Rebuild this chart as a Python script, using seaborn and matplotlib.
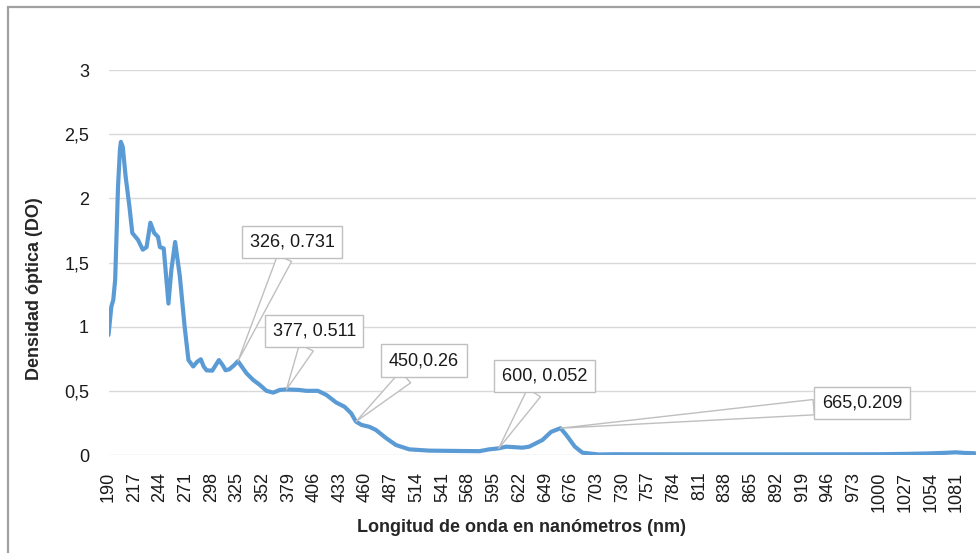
import numpy as np
import pandas as pd
import matplotlib
matplotlib.use("Agg")
import matplotlib.pyplot as plt
from matplotlib.patches import Rectangle
from matplotlib.ticker import FuncFormatter
import seaborn as sns

# Spectrum (wavelength nm, optical density)
wavelength = [190, 193, 195, 197, 200, 202, 203, 205, 208, 212, 215, 221, 226, 230, 234,
              238, 242, 244, 248, 250, 253, 256, 260, 265, 270, 274, 279, 283, 287, 290,
              293, 299, 306, 310, 313, 317, 322, 326, 335, 342, 349, 356, 363, 370, 377,
              390, 398, 410, 419, 429, 438, 445, 450, 456, 464, 471, 482, 492, 506, 527,
              562, 580, 590, 600, 608, 625, 632, 646, 655, 665, 671, 680, 688, 705, 720,
              800, 900, 1000, 1030, 1050, 1070, 1080, 1090, 1100]
density = [0.935, 1.156, 1.208, 1.364, 2.09, 2.377, 2.44, 2.40, 2.17, 1.935, 1.73, 1.676, 1.60, 1.62, 1.81,
           1.73, 1.70, 1.62, 1.61, 1.44, 1.18, 1.44, 1.66, 1.39, 1.00, 0.74, 0.69, 0.725, 0.746, 0.69,
           0.66, 0.657, 0.74, 0.70, 0.66, 0.668, 0.70, 0.731, 0.637, 0.585, 0.546, 0.50, 0.486, 0.507, 0.511,
           0.507, 0.50, 0.50, 0.468, 0.41, 0.376, 0.325, 0.26, 0.234, 0.22, 0.195, 0.13, 0.078, 0.044, 0.034,
           0.031, 0.030, 0.044, 0.052, 0.065, 0.057, 0.065, 0.117, 0.18, 0.209, 0.156, 0.065, 0.018, 0.004, 0.006,
           0.005, 0.005, 0.006, 0.009, 0.012, 0.017, 0.021, 0.016, 0.014]

# callouts: point and label text
callout_x = [326, 377, 450, 600, 665]
callout_y = [0.731, 0.511, 0.26, 0.052, 0.209]
callout_text = ["326, 0.731", "377, 0.511", "450,0.26", "600, 0.052", "665,0.209"]
callout_offset = [(39, 86), (20, 42), (49, 44), (33, 52), (217, 18)]  # points

x_ticks = list(range(190, 1082, 27))
y_ticks = [0, 0.5, 1, 1.5, 2, 2.5, 3]

df = pd.DataFrame({"nm": wavelength, "DO": density})

sns.set_style("white")
plt.rcParams["font.family"] = ["Liberation Sans", "DejaVu Sans"]

W, H = 980, 553
fig = plt.figure(figsize=(W / 100, H / 100), dpi=100)
ax = fig.add_axes([108.5 / W, 1 - 455 / H, 867 / W, 385 / H])

sns.lineplot(data=df, x="nm", y="DO", ax=ax, color="#5b9bd5", linewidth=3, zorder=2)
ax.lines[0].set_solid_joinstyle("round")
ax.lines[0].set_solid_capstyle("round")

ax.set_xlim(190, 1101)
ax.set_ylim(0, 3)
ax.set_xticks(x_ticks)
ax.set_xticklabels([str(t) for t in x_ticks], rotation=90, fontsize=13, color="#1a1a1a")
ax.set_yticks(y_ticks)
ax.yaxis.set_major_formatter(FuncFormatter(lambda v, p: f"{v:g}".replace(".", ",")))
ax.tick_params(axis="y", labelsize=13, colors="#1a1a1a", length=0, pad=14)
ax.tick_params(axis="x", length=0, pad=12)
ax.grid(axis="y", color="#d9d9d9", linewidth=1)
ax.set_axisbelow(True)
for s in ax.spines.values():
    s.set_visible(False)

ax.set_xlabel("Longitud de onda en nanómetros (nm)", fontsize=13, fontweight="bold")
ax.set_ylabel("Densidad óptica (DO)", fontsize=13, fontweight="bold")
ax.xaxis.set_label_coords(0.476, -0.165)
ax.yaxis.set_label_coords(-0.075, 0.431)

for x, y, txt, off in zip(callout_x, callout_y, callout_text, callout_offset):
    ax.annotate(txt, xy=(x, y), xytext=off, textcoords="offset points",
                ha="center", va="center", fontsize=13, color="#1a1a1a",
                bbox=dict(boxstyle="square,pad=0.42", fc="white", ec="#bfbfbf", lw=1),
                arrowprops=dict(arrowstyle="wedge,tail_width=0.85,shrink_factor=0.5",
                                fc="white", ec="#bfbfbf", lw=1, shrinkA=0, shrinkB=0),
                zorder=4)

# outer chart frame
fig.patches.append(Rectangle((8 / W, -0.1), 1.1, 1.1 - 7 / H, transform=fig.transFigure,
                             fill=False, ec="#a0a0a0", lw=1.6))

fig.savefig("out.png", dpi=100)
